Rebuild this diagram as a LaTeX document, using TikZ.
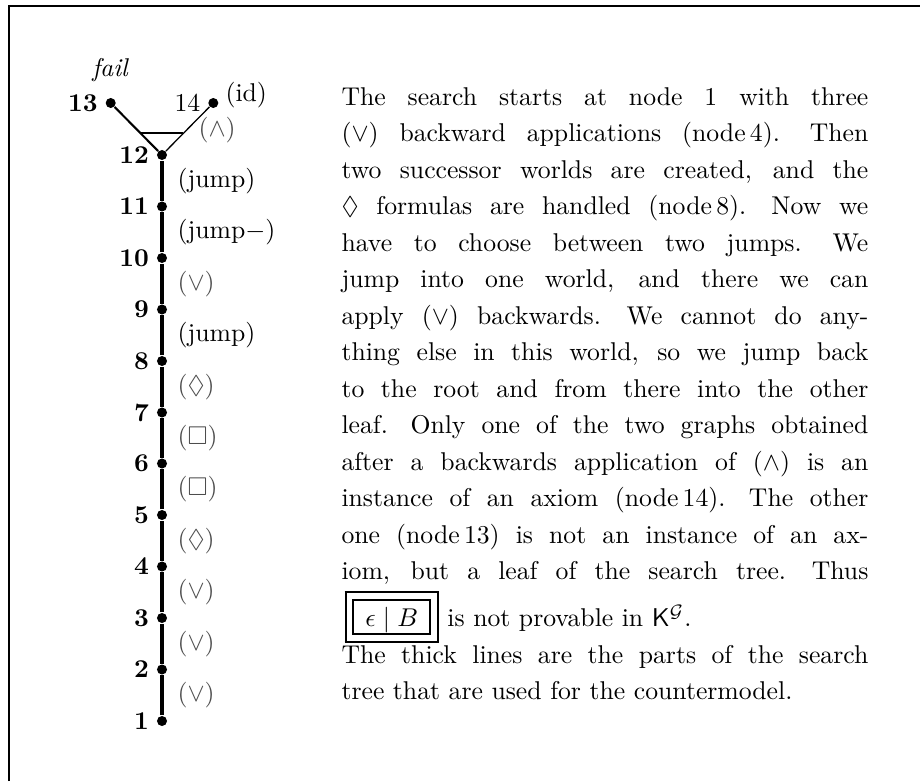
\documentclass[tikz,border=0pt]{standalone}
\usepackage{amssymb}
\usetikzlibrary{calc}
% one justified line of the explanation, spread to the full column width
\newcommand{\jline}[1]{\leavevmode\hbox to 205pt{%
  \spaceskip=3.33pt plus 1.67pt minus 1.11pt
  \xspaceskip=4.44pt plus 2.5pt minus 0.37pt #1}}
% doubly framed sequent
\newcommand{\seqbox}[1]{{\setlength{\fboxrule}{0.8pt}\setlength{\fboxsep}{2.2pt}%
  \fbox{\setlength{\fboxsep}{0pt}\fbox{\rule[-2.5pt]{0pt}{12.6pt}\hspace{4.3pt}#1\hspace{4.3pt}}}}}
\begin{document}
\begin{tikzpicture}[x=0.3891pt,y=-0.3891pt,
  dot/.style={circle,fill=black,inner sep=0pt,minimum size=3.9pt},
  num/.style={font=\bfseries,inner sep=0pt,label distance=2.7pt},
  plainnum/.style={inner sep=0pt,label distance=2.7pt},
  oplabel/.style={anchor=west,inner sep=0pt,text=black!70},
  jumplabel/.style={anchor=west,inner sep=0pt},
  spine/.style={line width=1.2pt},
  failedge/.style={line width=0.8pt},
  idedge/.style={line width=0.5pt},
  splitbar/.style={line width=0.8pt},
  border/.style={line width=0.8pt}]
\useasboundingbox (0,0) rectangle (920,781);

% page frame (top and left edges)
\draw[border] (9,781) -- (9,6) -- (920,6);

% the search tree
\node[dot,label={[num]left:1}]  (n1)  at (162,721)   {};
\node[dot,label={[num]left:2}]  (n2)  at (162,669.5) {};
\node[dot,label={[num]left:3}]  (n3)  at (162,618)   {};
\node[dot,label={[num]left:4}]  (n4)  at (162,566.5) {};
\node[dot,label={[num]left:5}]  (n5)  at (162,515)   {};
\node[dot,label={[num]left:6}]  (n6)  at (162,463.5) {};
\node[dot,label={[num]left:7}]  (n7)  at (162,412.5) {};
\node[dot,label={[num]left:8}]  (n8)  at (162,361)   {};
\node[dot,label={[num]left:9}]  (n9)  at (162,309.5) {};
\node[dot,label={[num]left:10}] (n10) at (162,258)   {};
\node[dot,label={[num]left:11}] (n11) at (162,206.5) {};
\node[dot,label={[num]left:12}] (n12) at (162,155)   {};
\node[dot,label={[num]left:13}] (n13) at (110.7,103) {};
\node[dot,label={[plainnum]left:14}] (n14) at (213.3,103) {};

\draw[spine] (n1) -- (n2) -- (n3) -- (n4) -- (n5) -- (n6) -- (n7)
  -- (n8) -- (n9) -- (n10) -- (n11) -- (n12);
\draw[failedge] (n12) -- (n13);
\draw[idedge] (n12) -- (n14);
\coordinate (barl) at ($(n12)!0.417!(n13)$);
\coordinate (barr) at ($(n12)!0.417!(n14)$);
\draw[splitbar] (barl) -- (barr);

% rule applications
\node[oplabel]   (r1)  at (177,695.25) {$(\vee)$};
\node[oplabel]   (r2)  at (177,643.75) {$(\vee)$};
\node[oplabel]   (r3)  at (177,592.25) {$(\vee)$};
\node[oplabel]   (r4)  at (177,540.75) {$(\Diamond)$};
\node[oplabel]   (r5)  at (177,489.25) {$(\Box)$};
\node[oplabel]   (r6)  at (177,438)    {$(\Box)$};
\node[oplabel]   (r7)  at (177,386.75) {$(\Diamond)$};
\node[jumplabel] (r8)  at (177,335.25) {(jump)};
\node[oplabel]   (r9)  at (177,283.75) {$(\vee)$};
\node[jumplabel] (r10) at (177,232.25) {(jump$-$)};
\node[jumplabel] (r11) at (177,180.75) {(jump)};
\node[oplabel]   (r12) at (198,130)    {$(\wedge)$};
\node[jumplabel] (idl) at (225,95)     {(id)};
\node[anchor=base,inner sep=0pt] (fail) at (110.7,77) {\textit{fail}};

% explanation
\node[anchor=north west,inner sep=0pt,text width=205pt,align=left,
      font=\fontsize{10}{14.2}\selectfont] (desc) at (341,87) {%
\noindent\lineskiplimit=-100pt
\jline{The search starts at node 1 with three}\\
\jline{$(\vee)$ backward applications (node\,4). Then}\\
\jline{two successor worlds are created, and the}\\
\jline{$\Diamond$ formulas are handled (node\,8). Now we}\\
\jline{have to choose between two jumps. We}\\
\jline{jump into one world, and there we can}\\
\jline{apply $(\vee)$ backwards. We cannot do any-}\\
\jline{thing else in this world, so we jump back}\\
\jline{to the root and from there into the other}\\
\jline{leaf. Only one of the two graphs obtained}\\
\jline{after a backwards application of $(\wedge)$ is an}\\
\jline{instance of an axiom (node\,14). The other}\\
\jline{one (node\,13) is not an instance of an ax-}\\
\jline{iom, but a leaf of the search tree. Thus}\\[4.1pt]
\hspace*{1.2pt}\seqbox{$\epsilon\mid B$} is not provable in $\mathsf{K}^{\mathcal{G}}$.\\
\jline{The thick lines are the parts of the search}\\
tree that are used for the countermodel.};
\end{tikzpicture}
\end{document}
